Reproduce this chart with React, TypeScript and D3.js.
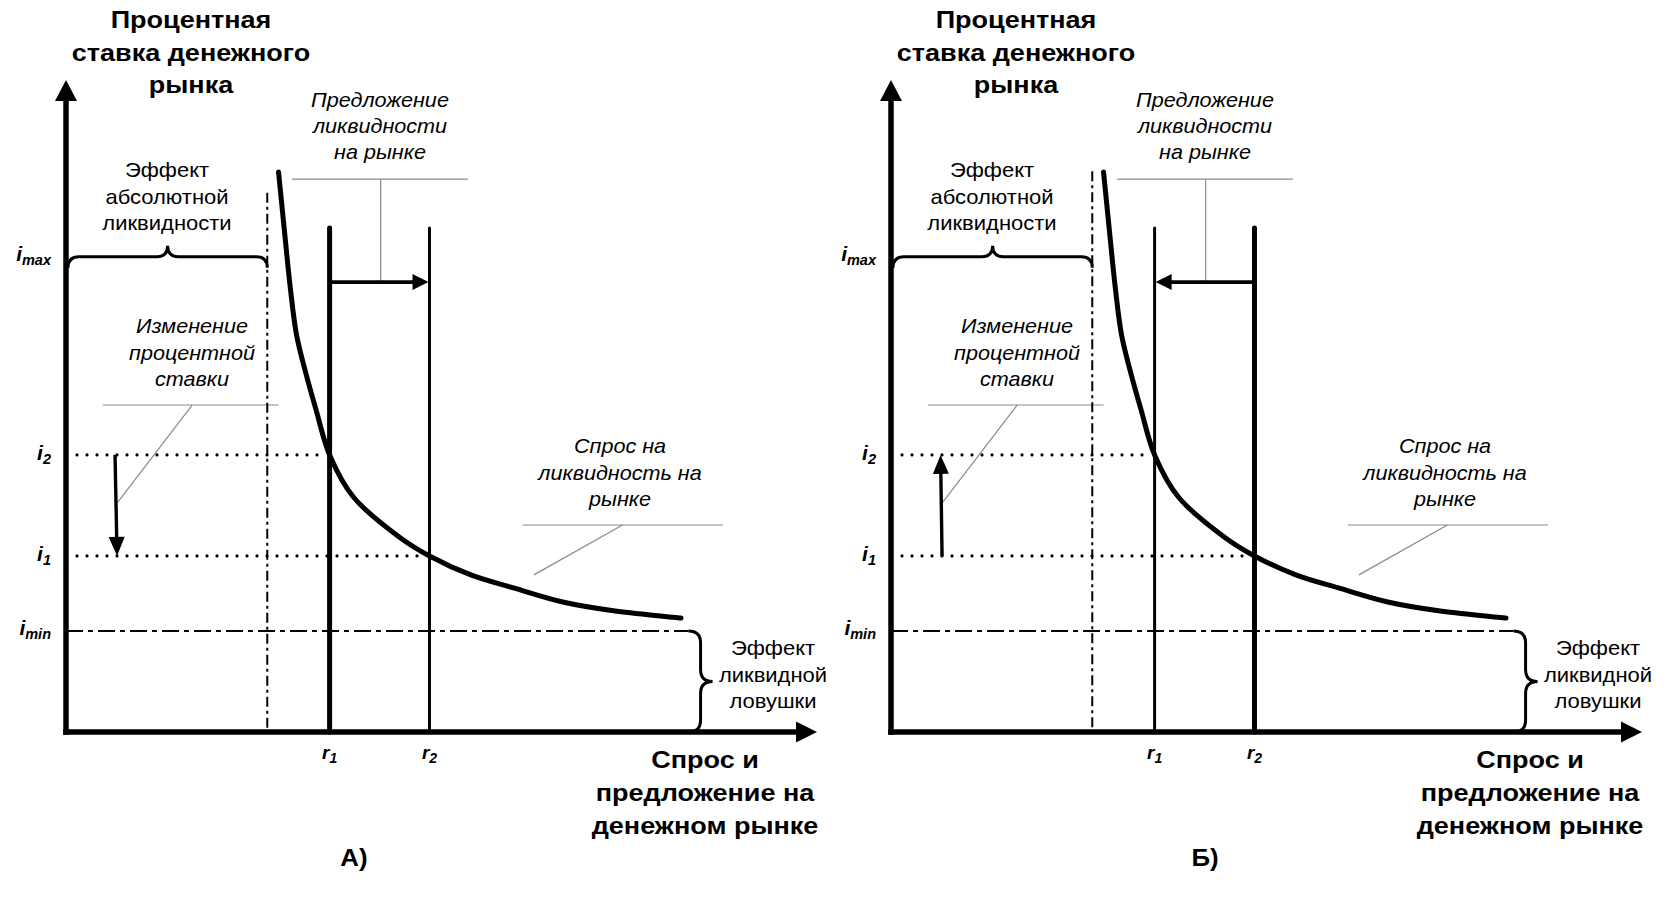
import React from "react";
import * as d3 from "d3";

// ---------- data (abstract units 0..100) ----------
const rateNames = ["max", "2", "1", "min"];
const rateLevels = [72.9, 42.5, 27.0, 15.5];
const supplyNames = ["1", "2"];
const supplyLevels = [35.1, 48.4];
const absoluteLiquidityLevel = 26.8;
const trapEndLevel = 82.9;
const demandQuantity = [28.3, 29.1, 29.9, 30.7, 31.9, 33.3, 35.1, 38.3, 44.5, 48.4, 53.9, 59.6, 66.3, 72.9, 81.9];
const demandRate = [85.9, 76.7, 67.8, 60.9, 55.2, 49.4, 42.5, 36.0, 29.8, 27.0, 24.1, 22.1, 19.9, 18.6, 17.5];
const panelNames = ["А)", "Б)"];
const titleLines = ["Процентная", "ставка денежного", "рынка"];
const xTitleLines = ["Спрос и", "предложение на", "денежном рынке"];
const absNote = ["Эффект", "абсолютной", "ликвидности"];
const supplyNote = ["Предложение", "ликвидности", "на рынке"];
const rateNote = ["Изменение", "процентной", "ставки"];
const demandNote = ["Спрос на", "ликвидность на", "рынке"];
const trapNote = ["Эффект", "ликвидной", "ловушки"];

const W = 1680;
const H = 911;
const FONT = "'Liberation Sans', Arial, Helvetica, sans-serif";

const x = d3.scaleLinear().domain([0, 100]).range([66, 817]);
const y = d3.scaleLinear().domain([0, 100]).range([732, 80]);

function headPts(x1: number, y1: number, x2: number, y2: number, len: number, half: number) {
  const dx = x2 - x1, dy = y2 - y1;
  const L = Math.hypot(dx, dy);
  const ux = dx / L, uy = dy / L;
  const bx = x2 - ux * len, by = y2 - uy * len;
  const nx = -uy, ny = ux;
  return {
    pts: `${x2},${y2} ${bx + nx * half},${by + ny * half} ${bx - nx * half},${by - ny * half}`,
    bx: x2 - ux * (len - 2),
    by: y2 - uy * (len - 2),
  };
}

function Arrow({ x1, y1, x2, y2, w = 3.4, len = 16, half = 8 }: any) {
  const h = headPts(x1, y1, x2, y2, len, half);
  return (
    <g>
      <line x1={x1} y1={y1} x2={h.bx} y2={h.by} stroke="#000" strokeWidth={w} />
      <polygon points={h.pts} fill="#000" />
    </g>
  );
}

function Lines({ lines, cx, y0, dy, size, weight = "normal", italic = false, sx = 1.1 }: any) {
  return (
    <g>
      {lines.map((t: string, i: number) => (
        <text
          key={i}
          transform={`translate(${cx},${y0 + i * dy}) scale(${sx},1)`}
          textAnchor="middle"
          fontFamily={FONT}
          fontSize={size}
          fontWeight={weight}
          fontStyle={italic ? "italic" : "normal"}
          fill="#000"
        >
          {t}
        </text>
      ))}
    </g>
  );
}

function Panel({ dx, variant, dashTop }: { dx: number; variant: number; dashTop: number }) {
  const [iMax, i2, i1, iMin] = rateLevels;
  const [r1, r2] = supplyLevels;
  const x0 = x(0);
  const y0 = y(0);
  const curve = d3
    .line<number>()
    .x((_, i) => x(demandQuantity[i]))
    .y((_, i) => y(demandRate[i]))
    .curve(d3.curveCatmullRom.alpha(0.5));

  // brace along imax
  const bx0 = x0 + 2, bx1 = x(absoluteLiquidityLevel), by = y(iMax), br = 11;
  const bxm = (bx0 + bx1) / 2;
  const braceTop = `M${bx0},${by + br} Q${bx0},${by} ${bx0 + br},${by} L${bxm - br},${by} Q${bxm},${by} ${bxm},${by - br} Q${bxm},${by} ${bxm + br},${by} L${bx1 - br},${by} Q${bx1},${by} ${bx1},${by + br}`;
  // brace right of imin
  const vr = 12;
  const vx = x(trapEndLevel) + vr, vy0 = y(iMin), vy1 = y0, vym = (vy0 + vy1) / 2;
  const braceRight = `M${vx - vr},${vy0} Q${vx},${vy0} ${vx},${vy0 + vr} L${vx},${vym - vr} Q${vx},${vym} ${vx + vr},${vym} Q${vx},${vym} ${vx},${vym + vr} L${vx},${vy1 - vr} Q${vx},${vy1} ${vx - vr},${vy1}`;

  const supplyTop = 77.3;
  const supplyArrowLevel = 69.0;
  const thick = 5;
  const thin = 3;
  const gray = "#8a8a8a";

  const rateArrow =
    variant === 0
      ? { x1: x(6.53), y1: y(i2), x2: x(6.8), y2: y(i1) }
      : { x1: x(6.8), y1: y(i1), x2: x(6.6), y2: y(i2) };
  const supArrow =
    variant === 0
      ? { x1: x(r1) + 2, y1: y(supplyArrowLevel), x2: x(r2) - 1, y2: y(supplyArrowLevel) }
      : { x1: x(r2) - 2, y1: y(supplyArrowLevel), x2: x(r1) + 1, y2: y(supplyArrowLevel) };

  return (
    <g transform={`translate(${dx},0)`}>
      {/* titles */}
      <Lines lines={titleLines} cx={191} y0={28} dy={32.5} size={23.5} weight="bold" sx={1.15} />
      <Lines lines={xTitleLines} cx={705} y0={768} dy={33} size={23.5} weight="bold" sx={1.15} />
      <Lines lines={[panelNames[variant]]} cx={variant === 0 ? 354 : 380} y0={866} dy={0} size={23.5} weight="bold" sx={1.1} />

      {/* notes */}
      <Lines lines={absNote} cx={167} y0={177} dy={26.5} size={20} sx={1.1} />
      <Lines lines={supplyNote} cx={380} y0={107} dy={26} size={20} italic sx={1.08} />
      <Lines lines={rateNote} cx={192} y0={333} dy={26.5} size={20} italic sx={1.08} />
      <Lines lines={demandNote} cx={620} y0={453} dy={26.5} size={20} italic sx={1.08} />
      <Lines lines={trapNote} cx={773} y0={655} dy={26.5} size={20} sx={1.1} />

      {/* gray leaders */}
      <g stroke={gray} strokeWidth={1.2} fill="none">
        <line x1={x(30.1)} y1={y(84.8)} x2={x(53.5)} y2={y(84.8)} />
        <line x1={x(41.9)} y1={y(84.8)} x2={x(41.9)} y2={y(supplyArrowLevel)} />
        <line x1={x(4.9)} y1={y(50.15)} x2={x(28.3)} y2={y(50.15)} />
        <line x1={x(16.8)} y1={y(50.15)} x2={x(6.8)} y2={y(35.1)} />
        <line x1={x(60.8)} y1={y(31.75)} x2={x(87.5)} y2={y(31.75)} />
        <line x1={x(74.1)} y1={y(31.75)} x2={x(62.3)} y2={y(24.1)} />
      </g>

      {/* dotted rate levels */}
      <g stroke="#000" strokeWidth={3.2} strokeLinecap="round" strokeDasharray="0 10">
        <line x1={x0 + 11} y1={y(i2)} x2={x(r1) - 3} y2={y(i2)} />
        <line x1={x0 + 11} y1={y(i1)} x2={x(r2) - 3} y2={y(i1)} />
      </g>

      {/* dash-dot lines */}
      <line x1={x0} y1={y(iMin)} x2={x(trapEndLevel)} y2={y(iMin)} stroke="#000" strokeWidth={2} strokeDasharray="17 5 5 5" />
      <line x1={x(absoluteLiquidityLevel)} y1={y(dashTop)} x2={x(absoluteLiquidityLevel)} y2={y0} stroke="#000" strokeWidth={2} strokeDasharray="10 4 3 4" />

      {/* braces */}
      <path d={braceTop} fill="none" stroke="#000" strokeWidth={3} />
      <path d={braceRight} fill="none" stroke="#000" strokeWidth={3} />

      {/* supply lines */}
      <line x1={x(r1)} y1={y(supplyTop)} x2={x(r1)} y2={y0} stroke="#000" strokeWidth={variant === 0 ? thick : thin} strokeLinecap="round" />
      <line x1={x(r2)} y1={y(supplyTop)} x2={x(r2)} y2={y0} stroke="#000" strokeWidth={variant === 0 ? thin : thick} strokeLinecap="round" />

      {/* demand curve */}
      <path d={curve(demandQuantity) || ""} fill="none" stroke="#000" strokeWidth={5} strokeLinecap="round" strokeLinejoin="round" />

      {/* arrows */}
      <Arrow {...rateArrow} w={3.4} len={19} half={8} />
      <Arrow {...supArrow} w={3.6} len={16} half={8} />

      {/* axes */}
      <line x1={x0} y1={y0 + 2.75} x2={x0} y2={y(100) + 18} stroke="#000" strokeWidth={5.5} />
      <polygon points={`${x0},${y(100)} ${x0 - 11},${y(100) + 21} ${x0 + 11},${y(100) + 21}`} fill="#000" />
      <line x1={x0 - 2.75} y1={y0} x2={x(100) - 18} y2={y0} stroke="#000" strokeWidth={5.5} />
      <polygon points={`${x(100)},${y0} ${x(100) - 21},${y0 - 10.5} ${x(100) - 21},${y0 + 10.5}`} fill="#000" />

      {/* rate labels */}
      {rateNames.map((n, i) => (
        <text
          key={n}
          x={51}
          y={y(rateLevels[i]) + (n.length > 1 ? 4 : 5)}
          textAnchor="end"
          fontFamily={FONT}
          fontWeight="bold"
          fontStyle="italic"
          fontSize={21}
        >
          <tspan>i</tspan>
          <tspan fontSize={14.5} dy={4}>{n}</tspan>
        </text>
      ))}

      {/* supply labels */}
      {supplyNames.map((n, i) => (
        <text
          key={n}
          x={x(supplyLevels[i])}
          y={759}
          textAnchor="middle"
          fontFamily={FONT}
          fontWeight="bold"
          fontStyle="italic"
          fontSize={19}
        >
          <tspan>r</tspan>
          <tspan fontSize={14} dy={4}>{n}</tspan>
        </text>
      ))}
    </g>
  );
}

export default function App() {
  return (
    <svg
      width={W}
      height={H}
      viewBox={`0 0 ${W} ${H}`}
      style={{ position: "absolute", left: 0, top: 0, background: "#fff" }}
    >
      <rect width={W} height={H} fill="#fff" />
      <Panel dx={0} variant={0} dashTop={82.7} />
      <Panel dx={825} variant={1} dashTop={86.0} />
    </svg>
  );
}
